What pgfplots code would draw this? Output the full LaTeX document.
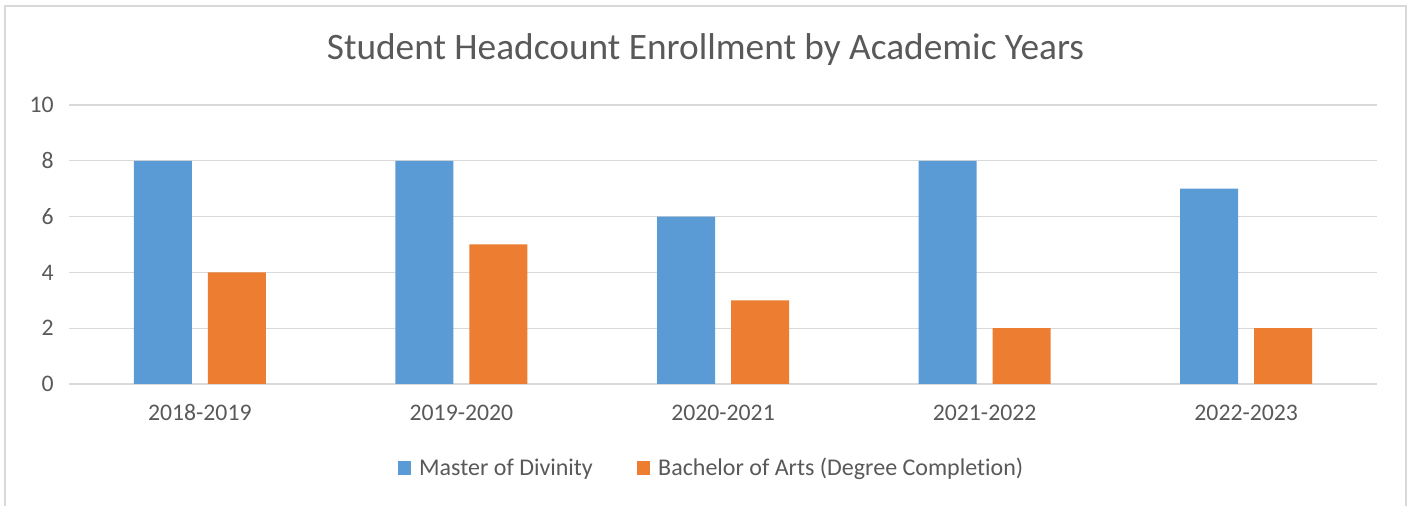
\documentclass[border=0pt]{standalone}
\usepackage{pgfplots}
\pgfplotsset{compat=1.18}
\usepackage{fontspec}
\setmainfont[Ligatures={NoCommon}]{Carlito}
\definecolor{cblue}{HTML}{5B9BD5}
\definecolor{corange}{HTML}{ED7D31}
\definecolor{tgray}{HTML}{595959}
\definecolor{ggray}{HTML}{D9D9D9}
\begin{document}
\begin{tikzpicture}
\useasboundingbox (0pt,0pt) rectangle (1064.25pt,379.5pt);
\draw[ggray, line width=1.2pt] (3.75pt,375pt) rectangle (1054.5pt,-10pt);
\node[text=tgray, font=\fontsize{28}{34}\selectfont] at (529.1pt,342pt) {Student Headcount Enrollment by Academic Years};
\begin{axis}[
  at={(51.75pt,91.5pt)}, anchor=south west,
  scale only axis, width=981pt, height=209.25pt,
  ybar=12pt, bar width=43.5pt,
  xmin=-0.5, xmax=4.5, ymin=0, ymax=10,
  xtick=data, xticklabels={2018-2019,2019-2020,2020-2021,2021-2022,2022-2023},
  ytick={0,2,4,6,8,10},
  ymajorgrids, grid style={ggray, line width=0.9pt},
  axis line style={draw=none}, major tick length=0pt,
  /pgf/number format/assume math mode=true,
  tick label style={text=tgray, font=\fontsize{17.8}{21}\selectfont},
  yticklabel style={xshift=-8pt},
  xticklabel style={yshift=-12pt},
  legend style={at={(0.4915,-0.301)}, anchor=center, draw=none, legend columns=2,
    font=\fontsize{18}{21}\selectfont, text=tgray,
    /tikz/every even column/.append style={column sep=31pt}},
  legend image code/.code={\fill[#1] (0pt,-5pt) rectangle (10pt,5pt); \path (14pt,0pt);},
]
\addplot[fill=cblue, draw=none] coordinates {(0,8) (1,8) (2,6) (3,8) (4,7)};
\addplot[fill=corange, draw=none] coordinates {(0,4) (1,5) (2,3) (3,2) (4,2)};
\legend{Master of Divinity, Bachelor of Arts (Degree Completion)}
\end{axis}
\end{tikzpicture}
\end{document}
